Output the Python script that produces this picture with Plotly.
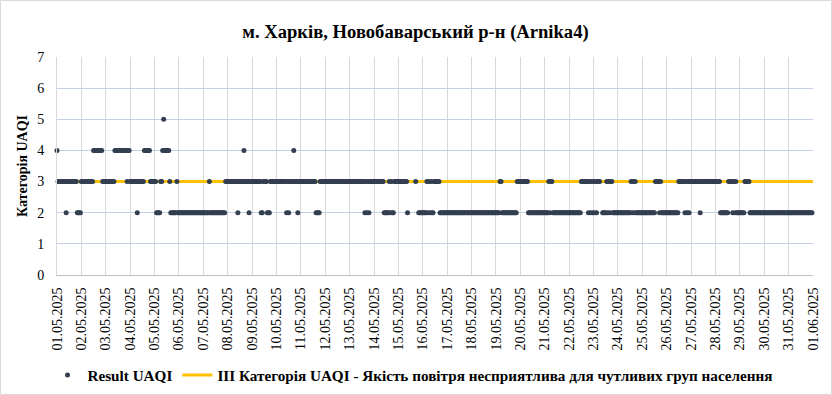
import pandas as pd
import plotly.graph_objects as go

# ---------------- text ----------------
chart_title = "м. Харків, Новобаварський р-н (Arnika4)"
series_name = "Result UAQI"
threshold_name = "III Категорія UAQI - Якість повітря несприятлива для чутливих груп населення"
y_title = "Категорія UAQI"

# ---------------- data ----------------
period_start = "2025-05-01 00:00"
period_end = "2025-06-01 00:00"
threshold_level = 3
y_ticks = [0, 1, 2, 3, 4, 5, 6, 7]

# Hourly UAQI category: one string per day (01.05 ... 31.05),
# 24 hourly readings each (grouped by 6 for readability), '-' = no reading.
daily_hours = [
    "433333 333233 333333 332222",  # 01.05
    "333333 333333 444444 444333",  # 02.05
    "333333 333444 444444 444344",  # 03.05
    "333333 323333 334444 443333",  # 04.05
    "332222 334544 444322 222232",  # 05.05
    "222222 222222 222222 222222",  # 06.05
    "222222 322222 222222 222233",  # 07.05
    "333333 333323 333343 333233",  # 08.05
    "333333 333223 333222 333333",  # 09.05
    "333333 333323 233334 333233",  # 10.05
    "333333 333333 333222 233333",  # 11.05
    "333333 333333 333333 333333",  # 12.05
    "333333 333333 333232 323333",  # 13.05
    "333333 333322 222323 223333",  # 14.05
    "333333 3332-- -----3 --2222",  # 15.05
    "222232 323223 333332 222222",  # 16.05
    "222222 222222 222222 222222",  # 17.05
    "222222 222222 222222 222222",  # 18.05
    "222233 222222 222222 222333",  # 19.05
    "333333 332222 222222 222222",  # 20.05
    "222232 332222 222222 222222",  # 21.05
    "222222 222222 333333 323232",  # 22.05
    "323233 3--222 232323 322222",  # 23.05
    "222222 222222 232323 222222",  # 24.05
    "222222 222222 233332 322222",  # 25.05
    "222222 222222 333333 232323",  # 26.05
    "333333 333233 333333 333333",  # 27.05
    "333332 222222 233332 323222",  # 28.05
    "222223 333322 222222 222222",  # 29.05
    "222222 222222 222222 222222",  # 30.05
    "222222 222222 222222 222222",  # 31.05
]

# ---------------- build series ----------------
base = pd.Timestamp(period_start)
times, values = [], []
for day_index, day_str in enumerate(daily_hours):
    readings = day_str.replace(" ", "")
    for hour, ch in enumerate(readings):
        if ch == "-":
            continue
        times.append(base + pd.Timedelta(days=day_index, hours=hour))
        values.append(int(ch))

threshold_x = [pd.Timestamp(period_start), pd.Timestamp(period_end)]
threshold_y = [threshold_level, threshold_level]

# ---------------- styles ----------------
FONT = "Liberation Serif, Times New Roman, serif"
MARKER_COLOR = "#333f50"
LINE_COLOR = "#ffc000"

fig = go.Figure()
fig.add_trace(go.Scatter(
    x=threshold_x, y=threshold_y, mode="lines", name=threshold_name,
    line=dict(color=LINE_COLOR, width=3), legendrank=2, hoverinfo="skip",
))
fig.add_trace(go.Scatter(
    x=times, y=values, mode="markers", name=series_name,
    marker=dict(color=MARKER_COLOR, size=5, line=dict(width=0)),
    cliponaxis=False, legendrank=1,
))

W, H = 832, 395
ml, mr, mt, mb = 57, 19, 57, 120
pw, ph = W - ml - mr, H - mt - mb

fig.update_layout(
    width=W, height=H,
    margin=dict(l=ml, r=mr, t=mt, b=mb, autoexpand=False),
    paper_bgcolor="white", plot_bgcolor="white",
    font=dict(family=FONT, size=14, color="#000000"),
    title=dict(text=chart_title, x=(415.5 / W), xanchor="center", xref="container",
               y=1 - 31 / H, yanchor="middle", yref="container",
               font=dict(family=FONT, size=18.6, weight="bold", color="#000000")),
    xaxis=dict(
        type="date", range=[period_start, period_end], automargin=False,
        tick0=period_start, dtick=86400000, tickformat="%d.%m.%Y",
        tickangle=-90, showgrid=True, gridcolor="#d9d9d9", gridwidth=1,
        showline=True, linecolor="#bfbfbf", linewidth=1, zeroline=False,
        ticks="", ticklabelstandoff=6,
        tickfont=dict(family=FONT, size=14, color="#000000"),
    ),
    yaxis=dict(
        range=[0, 7], tickvals=y_ticks, showgrid=True, gridcolor="#c5d1e8",
        gridwidth=1, zeroline=False, showline=True, linecolor="#d9d9d9",
        ticks="", ticklabelstandoff=9, automargin=False,
        tickfont=dict(family=FONT, size=14, color="#000000"),
    ),
    legend=dict(
        orientation="h", x=(413 - ml) / pw, xanchor="center",
        y=-(375 - (mt + ph)) / ph, yanchor="middle",
        font=dict(family=FONT, size=15.2, weight="bold", color="#000000"),
        itemwidth=30, bgcolor="rgba(0,0,0,0)",
    ),
    showlegend=True,
    annotations=[dict(
        text=y_title, textangle=-90, showarrow=False,
        xref="paper", yref="paper", x=(22 - ml) / pw, y=0.5,
        xanchor="center", yanchor="middle",
        font=dict(family=FONT, size=14, weight="bold", color="#000000"),
    )],
    shapes=[dict(
        type="rect", xref="paper", yref="paper", layer="below",
        x0=(0.5 - ml) / pw, x1=(W - 0.5 - ml) / pw,
        y0=-(H - 0.5 - (mt + ph)) / ph, y1=1 + (mt - 0.5) / ph,
        line=dict(color="#d9d9d9", width=1), fillcolor="rgba(0,0,0,0)",
    )],
)

fig.write_html(
    "out.html",
    config={"displayModeBar": False},
    post_script="document.body.style.margin='0';document.body.style.overflow='hidden';",
)
